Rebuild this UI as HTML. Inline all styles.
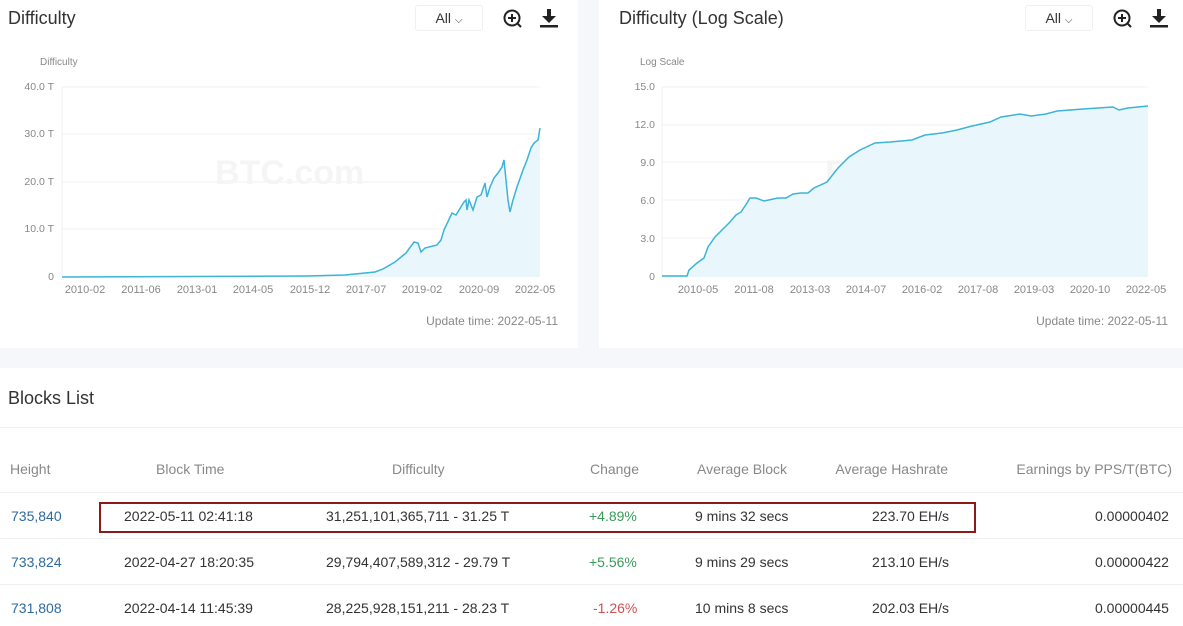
<!DOCTYPE html>
<html><head><meta charset="utf-8"><style>
*{margin:0;padding:0;box-sizing:border-box}
body{width:1183px;height:626px;overflow:hidden;background:#f5f7fa;font-family:"Liberation Sans",sans-serif;position:relative}
.a{position:absolute;white-space:nowrap}
.panel{position:absolute;background:#fff}
.t{font-size:18px;color:#333}
.sel{position:absolute;width:68px;height:26px;border:1px solid #f0f0f0;border-radius:3px;font-size:14px;color:#333;text-align:center;line-height:24px}
.th{font-size:14px;color:#888;top:461px}
.td{font-size:14px;color:#333}
.lk{color:#2d6a9f}
.hl{position:absolute;left:0;width:1183px;height:1px;background:#eef0f3}
</style></head><body>
<div class="panel" style="left:0;top:0;width:578px;height:348px"></div>
<div class="panel" style="left:599px;top:0;width:584px;height:348px"></div>
<div class="panel" style="left:0;top:368px;width:1183px;height:258px"></div>

<div class="a t" style="left:8px;top:8px">Difficulty</div>
<div class="sel" style="left:415px;top:5px">All <span style="font-size:10px">⌵</span></div>
<div class="a t" style="left:619px;top:8px">Difficulty (Log Scale)</div>
<div class="sel" style="left:1025px;top:5px">All <span style="font-size:10px">⌵</span></div>

<svg class="a" style="left:0;top:0" width="1183" height="348">
<g fill="none" stroke="#222" stroke-width="2">
<circle cx="512" cy="18" r="7.5"/><line x1="517" y1="23" x2="521" y2="27"/><line x1="508" y1="18" x2="516" y2="18"/><line x1="512" y1="14" x2="512" y2="22"/>
<circle cx="1122" cy="18" r="7.5"/><line x1="1127" y1="23" x2="1131" y2="27"/><line x1="1118" y1="18" x2="1126" y2="18"/><line x1="1122" y1="14" x2="1122" y2="22"/>
</g>
<g fill="#222"><rect x="547" y="9" width="4" height="8"/><polygon points="542,16 556,16 549,23"/><rect x="540" y="25" width="18" height="2.5"/>
<rect x="1157" y="9" width="4" height="8"/><polygon points="1152,16 1166,16 1159,23"/><rect x="1150" y="25" width="18" height="2.5"/></g>
<g font-size="10" fill="#888" font-family="Liberation Sans,sans-serif">
<text x="40" y="65">Difficulty</text><text x="640" y="65">Log Scale</text>
<g text-anchor="end" font-size="10.5"><text x="54" y="90">40.0 T</text><text x="54" y="137">30.0 T</text><text x="54" y="185">20.0 T</text><text x="54" y="232">10.0 T</text><text x="54" y="280">0</text>
<text x="655" y="90">15.0</text><text x="655" y="128">12.0</text><text x="655" y="166">9.0</text><text x="655" y="204">6.0</text><text x="655" y="242">3.0</text><text x="655" y="280">0</text></g>
<g text-anchor="middle" font-size="11"><text x="85" y="293">2010-02</text><text x="141" y="293">2011-06</text><text x="197" y="293">2013-01</text><text x="253" y="293">2014-05</text><text x="310" y="293">2015-12</text><text x="366" y="293">2017-07</text><text x="422" y="293">2019-02</text><text x="479" y="293">2020-09</text><text x="535" y="293">2022-05</text>
<text x="698" y="293">2010-05</text><text x="754" y="293">2011-08</text><text x="810" y="293">2013-03</text><text x="866" y="293">2014-07</text><text x="922" y="293">2016-02</text><text x="978" y="293">2017-08</text><text x="1034" y="293">2019-03</text><text x="1090" y="293">2020-10</text><text x="1146" y="293">2022-05</text></g>
<g text-anchor="end" font-size="12"><text x="558" y="325">Update time: 2022-05-11</text><text x="1168" y="325">Update time: 2022-05-11</text></g>
</g>
<g stroke="#f0f0f0"><line x1="62" x2="540" y1="87" y2="87"/><line x1="62" x2="540" y1="134" y2="134"/><line x1="62" x2="540" y1="182" y2="182"/><line x1="62" x2="540" y1="229" y2="229"/>
<line x1="662" x2="1148" y1="87" y2="87"/><line x1="662" x2="1148" y1="125" y2="125"/><line x1="662" x2="1148" y1="162" y2="162"/><line x1="662" x2="1148" y1="200" y2="200"/><line x1="662" x2="1148" y1="238" y2="238"/>
<line x1="62" x2="62" y1="87" y2="277"/><line x1="662" x2="662" y1="87" y2="277"/></g>
<g font-size="34" font-weight="bold" fill="#f5f5f5" font-family="Liberation Sans,sans-serif"><text x="215" y="184">BTC.com</text><text x="825" y="184">BTC.com</text></g>
<path d="M62,277 L306,276 345,275 375,272 383,269 395,262 406,253 414,242 418,243 421,252 425,248 437,245 441,240 444,230 452,213 456,215 464,202 466,200 467,210 469,200 473,210 477,197 481,195 485,183 487,197 490,187 494,178 498,173 502,167 504,160 506,180 508,200 510,212 513,200 517,187 523,170 527,160 531,148 534,143 538,140 540,128 L540,277Z" fill="#e9f6fb"/>
<path d="M62,277 L306,276 345,275 375,272 383,269 395,262 406,253 414,242 418,243 421,252 425,248 437,245 441,240 444,230 452,213 456,215 464,202 466,200 467,210 469,200 473,210 477,197 481,195 485,183 487,197 490,187 494,178 498,173 502,167 504,160 506,180 508,200 510,212 513,200 517,187 523,170 527,160 531,148 534,143 538,140 540,128" fill="none" stroke="#3bb4d8" stroke-width="1.5"/>
<path d="M662,276 L687,276 689,270 697,263 704,258 708,247 715,237 725,227 730,222 736,215 741,212 747,203 750,198 756,198 764,201 778,198 786,198 793,194 801,193 808,193 814,188 827,182 838,168 849,157 860,150 875,143 890,142 912,140 925,135 942,133 957,130 972,126 990,122 1001,117 1020,114 1031,116 1046,114 1057,111 1083,109 1113,107 1119,110 1128,108 1148,106 L1148,277 L662,277Z" fill="#e9f6fb"/>
<path d="M662,276 L687,276 689,270 697,263 704,258 708,247 715,237 725,227 730,222 736,215 741,212 747,203 750,198 756,198 764,201 778,198 786,198 793,194 801,193 808,193 814,188 827,182 838,168 849,157 860,150 875,143 890,142 912,140 925,135 942,133 957,130 972,126 990,122 1001,117 1020,114 1031,116 1046,114 1057,111 1083,109 1113,107 1119,110 1128,108 1148,106" fill="none" stroke="#3bb4d8" stroke-width="1.5"/>
</svg>

<div class="a t" style="left:8px;top:388px">Blocks List</div>
<div class="hl" style="top:427px"></div>
<div class="hl" style="top:492px"></div>
<div class="hl" style="top:538px"></div>
<div class="hl" style="top:584px"></div>

<div class="a th" style="left:10px">Height</div>
<div class="a th" style="left:156px">Block Time</div>
<div class="a th" style="left:392px">Difficulty</div>
<div class="a th" style="right:544px">Change</div>
<div class="a th" style="right:396px">Average Block</div>
<div class="a th" style="right:235px">Average Hashrate</div>
<div class="a th" style="right:11px">Earnings by PPS/T(BTC)</div>

<div class="a" style="left:99px;top:502px;width:877px;height:31px;border:2px solid #8b1a1a"></div>

<div class="a td lk" style="left:11px;top:508px">735,840</div>
<div class="a td" style="left:124px;top:508px">2022-05-11 02:41:18</div>
<div class="a td" style="left:326px;top:508px">31,251,101,365,711 - 31.25 T</div>
<div class="a td" style="left:589px;top:508px;color:#3a9a5a">+4.89%</div>
<div class="a td" style="left:695px;top:508px">9 mins 32 secs</div>
<div class="a td" style="left:872px;top:508px">223.70 EH/s</div>
<div class="a td" style="left:1095px;top:508px">0.00000402</div>

<div class="a td lk" style="left:11px;top:554px">733,824</div>
<div class="a td" style="left:124px;top:554px">2022-04-27 18:20:35</div>
<div class="a td" style="left:326px;top:554px">29,794,407,589,312 - 29.79 T</div>
<div class="a td" style="left:589px;top:554px;color:#3a9a5a">+5.56%</div>
<div class="a td" style="left:695px;top:554px">9 mins 29 secs</div>
<div class="a td" style="left:872px;top:554px">213.10 EH/s</div>
<div class="a td" style="left:1095px;top:554px">0.00000422</div>

<div class="a td lk" style="left:11px;top:600px">731,808</div>
<div class="a td" style="left:124px;top:600px">2022-04-14 11:45:39</div>
<div class="a td" style="left:326px;top:600px">28,225,928,151,211 - 28.23 T</div>
<div class="a td" style="left:593px;top:600px;color:#d05050">-1.26%</div>
<div class="a td" style="left:695px;top:600px">10 mins 8 secs</div>
<div class="a td" style="left:872px;top:600px">202.03 EH/s</div>
<div class="a td" style="left:1095px;top:600px">0.00000445</div>
</body></html>
